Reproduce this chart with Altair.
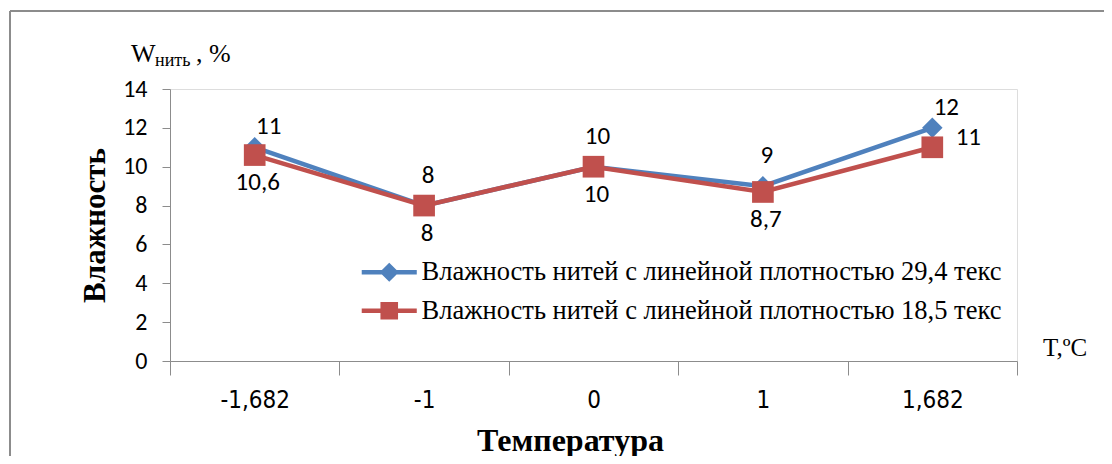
import altair as alt
import pandas as pd

categories = ["-1,682", "-1", "0", "1", "1,682"]
series_names = [
    "Влажность нитей с линейной плотностью 29,4 текс",
    "Влажность нитей с линейной плотностью 18,5 текс",
]
s1_values = [11, 8, 10, 9, 12]
s2_values = [10.6, 8, 10, 8.7, 11]
s1_labels = ["11", "8", "10", "9", "12"]
s2_labels = ["10,6", "8", "10", "8,7", "11"]
s1_label_pos = ["upper-right", "above", "above", "above", "upper-right"]
s2_label_pos = ["below", "below", "below", "below", "right"]
y_ticks = [0, 2, 4, 6, 8, 10, 12, 14]

BLUE = "#4F81BD"
RED = "#C0504D"
GRAY = "#8C8C8C"
SERIF = "Liberation Serif, Times New Roman, serif"
CAL = "Carlito, Lato, sans-serif"
NARROW = "Liberation Sans Narrow, DejaVu Sans Condensed, sans-serif"

rows = []
for name, vals, labs, poss in [
    (series_names[0], s1_values, s1_labels, s1_label_pos),
    (series_names[1], s2_values, s2_labels, s2_label_pos),
]:
    for c, v, l, p in zip(categories, vals, labs, poss):
        rows.append({"cat": c, "val": v, "series": name, "label": l, "pos": p})
df = pd.DataFrame(rows)
one = pd.DataFrame({"k": [0]})

W, H = 847, 272

x_enc = alt.X(
    "cat:N",
    sort=categories,
    scale=alt.Scale(domain=categories, paddingInner=0, paddingOuter=0),
    axis=alt.Axis(
        title="Температура",
        labelAngle=0,
        tickBand="extent",
        tickSize=14,
        tickColor=GRAY,
        domainColor=GRAY,
        labelPadding=13,
        labelFont=NARROW,
        labelFontSize=24,
        labelColor="black",
        titleFont=SERIF,
        titleFontWeight="bold",
        titleFontSize=32,
        titleColor="black",
        titleX=400,
        titleY=79,
        titleAlign="center",
        titleBaseline="middle",
    ),
)
y_enc = alt.Y(
    "val:Q",
    scale=alt.Scale(domain=[0, 14], nice=False),
    axis=alt.Axis(
        values=y_ticks,
        title="Влажность",
        grid=False,
        tickSize=8,
        tickColor=GRAY,
        domainColor=GRAY,
        labelPadding=15,
        labelFont=CAL,
        labelFontSize=24,
        labelColor="black",
        titleFont=SERIF,
        titleFontWeight="bold",
        titleFontSize=31,
        titleColor="black",
        titleAngle=270,
        titleX=-75,
        titleY=136,
        titleAlign="center",
        titleBaseline="middle",
    ),
)

color_scale = alt.Scale(domain=series_names, range=[BLUE, RED])

base = alt.Chart(df)

diamond_path = "M-3.44,-0.28L3.44,-0.28L3.44,0.28L-3.44,0.28Z M0,-1.2L1.2,0L0,1.2L-1.2,0Z"
square_path = "M-3.44,-0.28L3.44,-0.28L3.44,0.28L-3.44,0.28Z M-1.1,-1.1L1.1,-1.1L1.1,1.1L-1.1,1.1Z"

leg = alt.Legend(
    title=None,
    orient="none",
    legendX=206,
    legendY=170,
    direction="vertical",
    padding=0,
    symbolSize=256,
    symbolStrokeWidth=0,
    symbolOpacity=1,
    labelOffset=19,
    labelFont=SERIF,
    labelFontSize=26.5,
    labelColor="black",
    labelLimit=900,
    rowPadding=11.5,
)
# invisible layer that only carries the legend (placed first so its legend settings win)
legend_layer = base.mark_point(filled=True, opacity=0, size=256).encode(
    x=x_enc,
    y=y_enc,
    color=alt.Color("series:N", scale=color_scale, legend=leg),
    shape=alt.Shape(
        "series:N",
        scale=alt.Scale(domain=series_names, range=[diamond_path, square_path]),
        legend=leg,
    ),
)

line = base.mark_line(strokeWidth=4.5).encode(
    x=x_enc, y=y_enc, color=alt.Color("series:N", scale=color_scale)
)
pts1 = base.mark_point(shape="diamond", filled=True, opacity=1, size=420, color=BLUE).encode(
    x=x_enc, y=y_enc
).transform_filter(alt.datum.series == series_names[0])
pts2 = base.mark_point(shape="square", filled=True, opacity=1, size=470, color=RED).encode(
    x=x_enc, y=y_enc
).transform_filter(alt.datum.series == series_names[1])

offsets = {
    "above": (4, -31),
    "upper-right": (14, -21),
    "below": (3, 27),
    "right": (36, -10),
}
label_layers = []
for pos, (dx, dy) in offsets.items():
    label_layers.append(
        base.mark_text(
            font=CAL, fontSize=25, color="black", align="center", baseline="middle", dx=dx, dy=dy
        ).encode(x=x_enc, y=y_enc, text="label:N").transform_filter(alt.datum.pos == pos)
    )

ann = alt.Chart(one)
w_main = ann.mark_text(text="W", font=SERIF, fontSize=26, align="left", baseline="alphabetic", color="black").encode(
    x=alt.value(-39), y=alt.value(-27)
)
w_sub = ann.mark_text(text="нить", font=SERIF, fontSize=18, align="left", baseline="alphabetic", color="black").encode(
    x=alt.value(-15), y=alt.value(-23)
)
w_pct = ann.mark_text(text=", %", font=SERIF, fontSize=26, align="left", baseline="alphabetic", color="black").encode(
    x=alt.value(26), y=alt.value(-27)
)
t_lab = ann.mark_text(text="T,ºC", font=SERIF, fontSize=25, align="left", baseline="alphabetic", color="black").encode(
    x=alt.value(873), y=alt.value(267)
)
border_top = ann.mark_rule(color=GRAY, strokeWidth=2).encode(
    x=alt.value(-160), x2=alt.value(940), y=alt.value(-78)
)
border_left = ann.mark_rule(color=GRAY, strokeWidth=2).encode(
    x=alt.value(-160), y=alt.value(-78), y2=alt.value(400)
)

chart = alt.layer(
    legend_layer, border_top, border_left, line, pts1, pts2, *label_layers,
    w_main, w_sub, w_pct, t_lab,
).properties(
    width=W,
    height=H,
    padding={"left": 162, "top": 81, "right": 87, "bottom": 95},
    autosize=alt.AutoSizeParams(type="none"),
).configure_view(stroke=None).configure(background="white")

chart.save("out.html", embed_options={"renderer": "svg", "actions": False})
